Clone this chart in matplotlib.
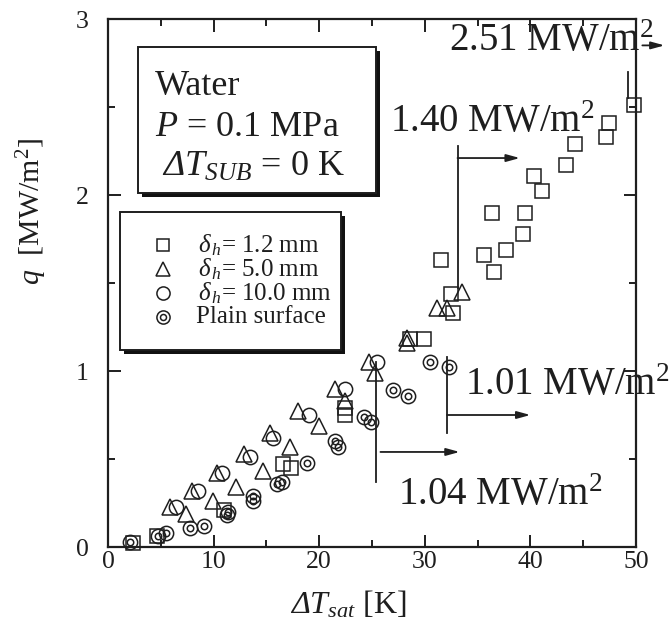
import matplotlib
matplotlib.use("Agg")
import matplotlib.pyplot as plt
from matplotlib.patches import Rectangle

plt.rcParams['font.family'] = ['Liberation Serif', 'DejaVu Serif']
plt.rcParams['mathtext.fontset'] = 'custom'
plt.rcParams['mathtext.rm'] = 'Liberation Serif:style=italic'
plt.rcParams['mathtext.it'] = 'Liberation Serif:style=italic'
plt.rcParams['mathtext.sf'] = 'Liberation Serif'
plt.rcParams['mathtext.bf'] = 'Liberation Serif:bold'

# ---------------- data ----------------
sq_x = [2.4, 4.6, 11.0, 16.6, 17.3, 22.4, 22.4, 28.6, 29.9, 31.5, 32.5, 32.7,
        35.6, 36.6, 37.7, 39.3, 36.4, 39.5, 40.3, 41.1, 43.4, 44.2, 47.2, 47.4, 49.8]
sq_y = [0.02, 0.06, 0.21, 0.47, 0.45, 0.79, 0.75, 1.18, 1.18, 1.63, 1.44, 1.33,
        1.66, 1.56, 1.69, 1.78, 1.90, 1.90, 2.11, 2.02, 2.17, 2.29, 2.33, 2.41, 2.51]

tri_x = [5.9, 8.0, 10.3, 12.9, 15.3, 18.0, 21.5, 24.7,
         7.4, 9.9, 12.1, 14.7, 17.2, 20.0, 22.4, 25.3,
         28.3, 28.3, 31.2, 32.1, 33.5]
tri_y = [0.23, 0.32, 0.42, 0.53, 0.65, 0.77, 0.90, 1.05,
         0.19, 0.26, 0.34, 0.43, 0.57, 0.69, 0.83, 0.99,
         1.19, 1.16, 1.36, 1.36, 1.45]

cir_x = [6.4, 8.5, 10.8, 13.4, 15.6, 19.0, 22.4, 25.5]
cir_y = [0.23, 0.32, 0.42, 0.51, 0.62, 0.75, 0.90, 1.05]

pl_x = [2.1, 4.7, 5.5, 7.8, 9.1, 11.3, 11.4, 13.7, 13.7, 16.0, 16.5, 18.8,
        21.5, 21.8, 24.2, 24.9, 27.0, 28.4, 30.5, 32.3]
pl_y = [0.03, 0.06, 0.08, 0.11, 0.12, 0.18, 0.20, 0.26, 0.29, 0.36, 0.37, 0.48,
        0.60, 0.57, 0.74, 0.71, 0.89, 0.86, 1.05, 1.02]

labels = [r'$\delta_{\,h}$= 1.2 mm', r'$\delta_{\,h}$= 5.0 mm',
          r'$\delta_{\,h}$= 10.0 mm', 'Plain surface']

x_ticks = [0, 10, 20, 30, 40, 50]
y_ticks = [0, 1, 2, 3]

INK = '#1e1e1e'

# ---------------- figure ----------------
fig = plt.figure(figsize=(6.72, 6.37), dpi=100)
ax = fig.add_axes([108/672, 90/637, 528/672, 528/637])

ms = 10.3
mew = 1.1
kw = dict(linestyle='none', markerfacecolor='none', markeredgecolor=INK,
          markeredgewidth=mew, clip_on=False, zorder=3)
ax.plot(sq_x, sq_y, marker='s', markersize=ms*0.95, **kw)
ax.plot(tri_x, tri_y, marker='^', markersize=ms*1.05, **kw)
ax.plot(cir_x, cir_y, marker='o', markersize=ms, **kw)
ax.plot(pl_x, pl_y, marker='o', markersize=ms, **kw)
ax.plot(pl_x, pl_y, marker='o', markersize=ms*0.45, **kw)

ax.set_xlim(0, 50)
ax.set_ylim(0, 3)
ax.set_xticks(x_ticks)
ax.set_yticks(y_ticks)
ax.set_xticks([5, 15, 25, 35, 45], minor=True)
ax.set_yticks([0.5, 1.5, 2.5], minor=True)
ax.tick_params(which='both', direction='in', top=True, right=True, width=1.4,
               labelsize=18.5, colors=INK)
ax.tick_params(which='major', length=9)
ax.tick_params(which='minor', length=5)
ax.tick_params(axis='x', pad=3)
ax.tick_params(axis='y', pad=14)
for s in ax.spines.values():
    s.set_linewidth(1.6)
    s.set_color(INK)

ax.set_xlabel(r'$\Delta T_{sat}$ [K]', fontsize=23, color=INK)
ax.xaxis.set_label_coords(0.456, -0.080)
ax.set_ylabel(r'$q$  [MW/m$^{\mathsf{2}}$]', fontsize=21.5, color=INK)
ax.yaxis.set_label_coords(-0.112, 0.636)

# ---------------- condition box ----------------
tr = ax.transAxes
def px2ax(px, py):
    return ((px - 108) / 528, (547 - py) / 528)

def shadow_box(x0, y0, x1, y1, off=4):
    a0 = px2ax(x0 + off, y1 + off)
    a1 = px2ax(x1 + off, y0 + off)
    ax.add_patch(Rectangle(a0, a1[0]-a0[0], a1[1]-a0[1], transform=tr,
                           facecolor='#111111', edgecolor='none', zorder=4))
    b0 = px2ax(x0, y1)
    b1 = px2ax(x1, y0)
    ax.add_patch(Rectangle(b0, b1[0]-b0[0], b1[1]-b0[1], transform=tr,
                           facecolor='white', edgecolor=INK, lw=1.4, zorder=5))

shadow_box(138, 47, 376, 193)
tx, ty = px2ax(155, 95)
ax.text(tx, ty, 'Water', transform=tr, fontsize=26, va='baseline', ha='left',
        zorder=6, color=INK)
tx, ty = px2ax(155, 136)
ax.text(tx, ty, r'$P$ = 0.1 MPa', transform=tr, fontsize=26, va='baseline',
        ha='left', zorder=6, color=INK)
tx, ty = px2ax(162, 176)
ax.text(tx, ty, r'$\Delta T_{SUB}$ = 0 K', transform=tr, fontsize=26,
        va='baseline', ha='left', zorder=6, color=INK)

# ---------------- legend box ----------------
shadow_box(120, 212, 341, 350)
markers = [('s', 0.95), ('^', 1.05), ('o', 1.0), ('o', 1.0)]
rows = [245, 269, 293, 317]
for i, (lab, (mk, f)) in enumerate(zip(labels, markers)):
    mx, my = px2ax(163, rows[i])
    ax.plot([mx], [my], transform=tr, marker=mk, markersize=ms*f*0.92,
            markerfacecolor='none', markeredgecolor=INK,
            markeredgewidth=mew, zorder=6, clip_on=False)
    if i == 3:
        ax.plot([mx], [my], transform=tr, marker='o', markersize=ms*0.42,
                markerfacecolor='none', markeredgecolor=INK,
                markeredgewidth=mew, zorder=6, clip_on=False)
    lx, ly = px2ax(198 if i < 3 else 196, rows[i])
    ax.text(lx, ly, lab, transform=tr, fontsize=18, va='center', ha='left',
            zorder=6, color=INK)

# ---------------- annotations ----------------
akw = dict(color=INK, lw=1.3, zorder=2)
arrow = dict(arrowstyle='-|>,head_length=0.8,head_width=0.22', color=INK,
             lw=1.3, shrinkA=0, shrinkB=0)
sup2 = r'$^{\mathsf{2}}$'

# 1.04 MW/m2
ax.plot([25.4, 25.4], [1.05, 0.37], **akw)
ax.annotate('', xy=(33.3, 0.54), xytext=(25.8, 0.54), arrowprops=arrow)
ax.text(27.5, 0.24, '1.04 MW/m' + sup2, fontsize=28, va='baseline', ha='left',
        color=INK)

# 1.01 MW/m2
ax.plot([32.1, 32.1], [1.08, 0.65], **akw)
ax.annotate('', xy=(40.0, 0.75), xytext=(32.1, 0.75), arrowprops=arrow)
ax.text(33.8, 0.865, '1.01 MW/m' + sup2, fontsize=28, va='baseline', ha='left',
        color=INK, zorder=7, clip_on=False)

# 1.40 MW/m2
ax.plot([33.1, 33.1], [2.28, 1.47], **akw)
ax.annotate('', xy=(39.0, 2.21), xytext=(33.1, 2.21), arrowprops=arrow)
ax.text(26.7, 2.36, '1.40 MW/m' + sup2, fontsize=28, va='baseline', ha='left',
        color=INK)

# 2.51 MW/m2
ax.plot([49.2, 49.2], [2.55, 2.70], color=INK, lw=1.3, zorder=2,
        clip_on=False)
ax.annotate('', xy=(52.7, 2.85), xytext=(50.6, 2.85), arrowprops=arrow,
            annotation_clip=False)
ax.text(32.3, 2.82, '2.51 MW/m' + sup2, fontsize=28, va='baseline', ha='left',
        color=INK, zorder=7, clip_on=False)

fig.savefig('out.png', dpi=100)
